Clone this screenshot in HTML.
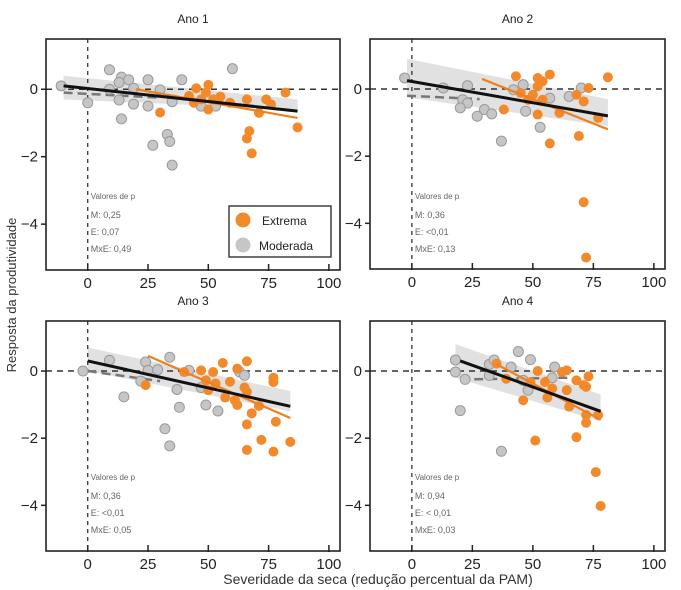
<!DOCTYPE html>
<html><head><meta charset="utf-8">
<style>
body{margin:0;background:#fff;}
svg{display:block;font-family:"Liberation Sans",sans-serif;}
</style></head>
<body>
<svg id="chart" width="681" height="590" viewBox="0 0 681 590" xmlns="http://www.w3.org/2000/svg">
<text x="0" y="0" transform="translate(16,295) rotate(-90)" text-anchor="middle" font-size="13" fill="#333">Resposta da produtividade</text>
<text x="378" y="584" text-anchor="middle" font-size="14" fill="#333">Severidade da seca (redução percentual da PAM)</text>
</svg>
<script>
const panelTitles=["Ano 1","Ano 2","Ano 3","Ano 4"];
const xTicks=[0,25,50,75,100];
const yTicks=[0,-2,-4];
const pM=["0,25","0,36","0,36","0,94"];
const pE=["0,07","<0,01","<0,01","< 0,01"];
const pMxE=["0,49","0,13","0,05","0,03"];
// moderate (gray) points
const grayX=[
[-11,9,14,17,13,9,13,19,25,25,30,39,60,0,14,27,33,34,35,35,47,53,19],
[-3,23,21,23,20,27,30,33,37,46,47,53,57,65,70,13,42],
[-2,9,24,25,29,22,15,34,37,38,32,34,49,54,42,47,63,65],
[18,18,22,20,32,34,44,49,41,37,59,58,48,32,46]];
const grayY=[
[0.1,0.58,0.36,0.28,0.2,0,-0.32,-0.44,0.28,-0.5,-0.02,0.28,0.61,-0.4,-0.88,-1.66,-1.34,-1.55,-2.25,-0.37,-0.5,-0.5,0.03],
[0.33,0.1,-0.32,-0.42,-0.56,-0.81,-0.61,-0.74,-1.55,0.13,-0.66,-1.14,-0.27,-0.22,0.03,0.03,-0.02],
[0,0.32,0.27,0.02,0.04,-0.3,-0.77,0.41,-0.55,-1.08,-1.72,-2.23,-1.01,-1.19,0.02,-0.49,-0.03,-0.13],
[0.33,-0.03,-0.25,-1.18,0.2,0.33,0.58,0.34,0.12,-2.39,0.12,-0.2,-0.57,-0.13,-0.28]];
// extreme (orange) points
const orangeX=[
[30,45,50,42,47,50,55,52,66,74,71,82,87,67,66,68,44,49,76,59],
[43,57,81,52,54,52,50,38,52,61,69,57,73,77,71,72,68,71,48,45,54],
[24,40,47,52,56,66,62,77,77,49,53,59,50,57,61,62,65,66,71,68,66,78,72,66,77,84],
[35,39,52,46,51,64,62,55,56,58,64,65,68,71,73,72,72,72,77,68,76,78,49]];
const orangeY=[
[-0.69,0.03,0.13,-0.2,-0.3,-0.6,-0.22,-0.3,-0.3,-0.3,-0.7,-0.1,-1.13,-1.24,-1.46,-1.9,-0.4,-0.1,-0.45,-0.4],
[0.38,0.43,0.35,0.33,0.23,0.08,-0.17,-0.61,-0.76,-0.71,-1.4,-1.62,0.03,-0.86,-3.37,-5.02,-0.17,-0.37,-0.32,-0.12,-0.32],
[-0.42,-0.03,0.02,-0.03,0.24,0.29,0.07,-0.2,-0.33,-0.28,-0.37,-0.32,-0.57,-0.79,-0.87,-1.01,-0.49,-0.62,-1.04,-1.26,-1.59,-1.51,-2.05,-2.35,-2.4,-2.11],
[0.22,-0.23,0,-0.87,-2.07,0.02,-0.03,-0.33,-0.79,-0.52,-0.57,-1.06,-0.28,-0.42,-0.16,-0.47,-1.31,-1.54,-1.31,-1.97,-3.01,-4.02,-0.33]];
// fitted lines: [x1,x2], [y1,y2]
const overallLineX=[[-10,87],[-2,81],[0,84],[20,78]];
const overallLineY=[[0.1,-0.65],[0.25,-0.8],[0.3,-1.05],[0.3,-1.2]];
const extremeLineX=[[20,87],[29,81],[25,84],[35,78]];
const extremeLineY=[[0,-0.85],[0.3,-1.2],[0.45,-1.4],[0.2,-1.45]];
const moderateLineX=[[-10,30],[-2,28],[0,30],[20,65]];
const moderateLineY=[[-0.1,-0.25],[-0.2,-0.3],[0,-0.3],[-0.25,-0.2]];
// confidence band: x range, upper [y1,y2], lower [y1,y2]
const bandX=[[-10,87],[-2,81],[0,84],[18,78]];
const bandUpper=[[0.4,-0.3],[0.9,-0.3],[0.7,-0.6],[0.8,-0.7]];
const bandLower=[[-0.3,-0.6],[-0.25,-1.1],[0,-1.2],[-0.2,-1.5]];

const NS="http://www.w3.org/2000/svg";
const svg=document.getElementById('chart');
const boxes=[{l:46,r:340,t:39,b:270},{l:370,r:665,t:39,b:269},{l:46,r:340,t:321,b:551},{l:370,r:665,t:321,b:551}];
const xDom=[-17.3,104.6], yDom=[-5.36,1.49];
function mk(tag,attrs,parent){const e=document.createElementNS(NS,tag);for(const k in attrs)e.setAttribute(k,attrs[k]);(parent||svg).appendChild(e);return e;}
boxes.forEach((B,i)=>{
  const sx=v=>B.l+(v-xDom[0])/(xDom[1]-xDom[0])*(B.r-B.l);
  const sy=v=>B.b-(v-yDom[0])/(yDom[1]-yDom[0])*(B.b-B.t);
  const g=mk('g',{});
  
  
  const t=mk('text',{x:(B.l+B.r)/2,y:B.t-16,'text-anchor':'middle','font-size':12,fill:'#222'},g);
  t.textContent=panelTitles[i];
  
  
  const bx=bandX[i],bu=bandUpper[i],bl=bandLower[i];
  const band=mk('polygon',{points:`${sx(bx[0])},${sy(bu[0])} ${sx(bx[1])},${sy(bu[1])} ${sx(bx[1])},${sy(bl[1])} ${sx(bx[0])},${sy(bl[0])}`,fill:'#dcdcdc',opacity:0.85},g);
  
  
  const h=mk('line',{x1:B.l,x2:B.r,y1:sy(0),y2:sy(0),stroke:'#333','stroke-width':1.5,'stroke-dasharray':'6,5'},g);
  
  
  const v=mk('line',{x1:sx(0),x2:sx(0),y1:B.t,y2:B.b,stroke:'#333','stroke-width':1.3,'stroke-dasharray':'4,4'},g);
  
  
  const md=mk('line',{x1:sx(moderateLineX[i][0]),x2:sx(moderateLineX[i][1]),y1:sy(moderateLineY[i][0]),y2:sy(moderateLineY[i][1]),stroke:'#777','stroke-width':2.5,'stroke-dasharray':'9,5'},g);
  
  
  grayX[i].forEach((x,j)=>{
    const c=mk('circle',{cx:sx(x),cy:sy(grayY[i][j]),r:5,fill:'#c6c6c6',stroke:'#9a9a9a','stroke-width':1},g);
    
    
  });
  orangeX[i].forEach((x,j)=>{
    const c=mk('circle',{cx:sx(x),cy:sy(orangeY[i][j]),r:5,fill:'#f28a2c'},g);
    
    
  });
  const ol=mk('line',{x1:sx(extremeLineX[i][0]),x2:sx(extremeLineX[i][1]),y1:sy(extremeLineY[i][0]),y2:sy(extremeLineY[i][1]),stroke:'#f07f1e','stroke-width':2.2},g);
  
  
  const bl2=mk('line',{x1:sx(overallLineX[i][0]),x2:sx(overallLineX[i][1]),y1:sy(overallLineY[i][0]),y2:sy(overallLineY[i][1]),stroke:'#111','stroke-width':3},g);
  
  
  const fr=mk('rect',{x:B.l,y:B.t,width:B.r-B.l,height:B.b-B.t,fill:'none',stroke:'#222','stroke-width':1.6},g);
  
  
  xTicks.forEach(tv=>{
    mk('line',{x1:sx(tv),x2:sx(tv),y1:B.b-6,y2:B.b+1,stroke:'#222','stroke-width':1.5},g);
    const tl=mk('text',{x:sx(tv),y:B.b+18,'text-anchor':'middle','font-size':15,fill:'#222'},g);
    tl.textContent=tv;
    
    
  });
  yTicks.forEach(tv=>{
    mk('line',{x1:B.l-5,x2:B.l,y1:sy(tv),y2:sy(tv),stroke:'#222','stroke-width':1.5},g);
    const tl=mk('text',{x:B.l-8,y:sy(tv)+5,'text-anchor':'end','font-size':15,fill:'#222'},g);
    tl.textContent=tv===0?'0':'−'+Math.abs(tv);
    
    
  });
  const px=sx(0)+3, base=B.t+(i<2?162:161);
  const lines=["Valores de p","M: "+pM[i],"E: "+pE[i],"MxE: "+pMxE[i]];
  lines.forEach((s,k)=>{
    const tt=mk('text',{x:px,y:base+k*17-(k===0?2:0),'font-size':k===0?8:9,fill:'#666'},g);
    tt.textContent=s;
    
    
  });
});
const lg=mk('g',{});


mk('rect',{x:229,y:206,width:102,height:51,fill:'#fff',stroke:'#222','stroke-width':1.3},lg);
const le1=mk('circle',{cx:243,cy:220,r:7.5,fill:'#f28a2c'},lg);


const lt1=mk('text',{x:262,y:225,'font-size':12,fill:'#222'},lg);lt1.textContent='Extrema';
const le2=mk('circle',{cx:243,cy:245,r:7.5,fill:'#c6c6c6'},lg);


const lt2=mk('text',{x:259,y:250,'font-size':12,fill:'#222'},lg);lt2.textContent='Moderada';
</script>
</body></html>
